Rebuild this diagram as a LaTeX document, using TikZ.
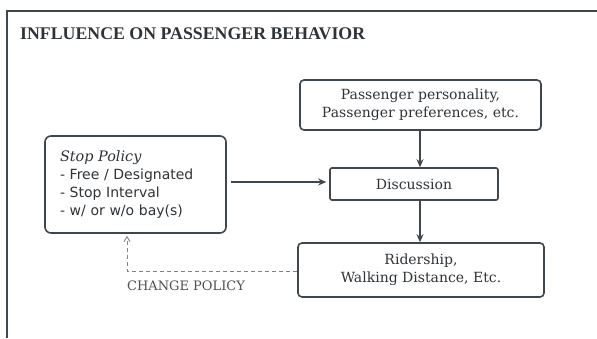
\documentclass[tikz,border=0pt]{standalone}
\usepackage{fontspec}
\setmainfont{Liberation Serif}
\newfontfamily\boxfont{DejaVu Serif}
\newfontfamily\listfont{DejaVu Sans}
\usetikzlibrary{arrows.meta}
\definecolor{linec}{HTML}{3E464E}
\definecolor{textc}{HTML}{2E3338}
\definecolor{dashc}{HTML}{7C848C}
\tikzset{
  box/.style={draw=linec, line width=1.6pt, rounded corners=4pt, text=textc, align=center, inner sep=0pt, font=\boxfont\fontsize{14}{18}\selectfont},
  flow/.style={draw=linec, line width=1.3pt, -{Stealth[length=8pt,width=7pt]}},
  back/.style={draw=dashc, line width=0.9pt, dash pattern=on 4pt off 3pt, -{Straight Barb[length=5pt,width=6pt]}},
}
\begin{document}
\begin{tikzpicture}[x=1pt,y=-1pt]
\useasboundingbox (0,0) rectangle (597,338);
\fill[white] (0,0) rectangle (597,338);
\draw[linec, line width=1.2pt] (7,338) -- (7,11) -- (597,11);
\node[anchor=west, text=textc, font=\bfseries\fontsize{17.8}{20}\selectfont, inner sep=0pt] (title) at (20,34) {INFLUENCE ON PASSENGER BEHAVIOR};
\node[box, minimum width=241, minimum height=50] (pers) at (420.5,105) {Passenger personality,\\Passenger preferences, etc.};
\node[box, rounded corners=2pt, minimum width=168, minimum height=32] (disc) at (414,184) {Discussion};
\node[box, minimum width=246, minimum height=54] (ride) at (421,270) {Ridership,\\Walking Distance, Etc.};
\node[box, minimum width=181, minimum height=97, text width=151, align=left, rounded corners=6pt, font=\listfont\fontsize{14}{18.3}\selectfont] (stop) at (135.5,184.5) {{\boxfont\itshape\fontsize{14.4}{18.3}\selectfont Stop Policy}\\- Free / Designated\\- Stop Interval\\- w/ or w/o bay(s)};
\coordinate (s1) at ([xshift=4pt]stop.east |- 0,182);
\coordinate (s2) at ([xshift=-3pt]disc.west |- 0,182);
\draw[flow] (s1) -- (s2);
\draw[flow] (pers.south -| 420,0) -- (disc.north -| 420,0);
\draw[flow] (disc.south -| 420,0) -- (ride.north -| 420,0);
\coordinate (corner) at (127,271);
\draw[back] (ride.west |- corner) -- (corner) -- ([yshift=-2pt]stop.south -| corner);
\node[anchor=north west, text=textc!85, font=\boxfont\fontsize{13}{15}\selectfont, inner sep=0pt] (chg) at (127,281) {CHANGE POLICY};
\end{tikzpicture}
\end{document}
